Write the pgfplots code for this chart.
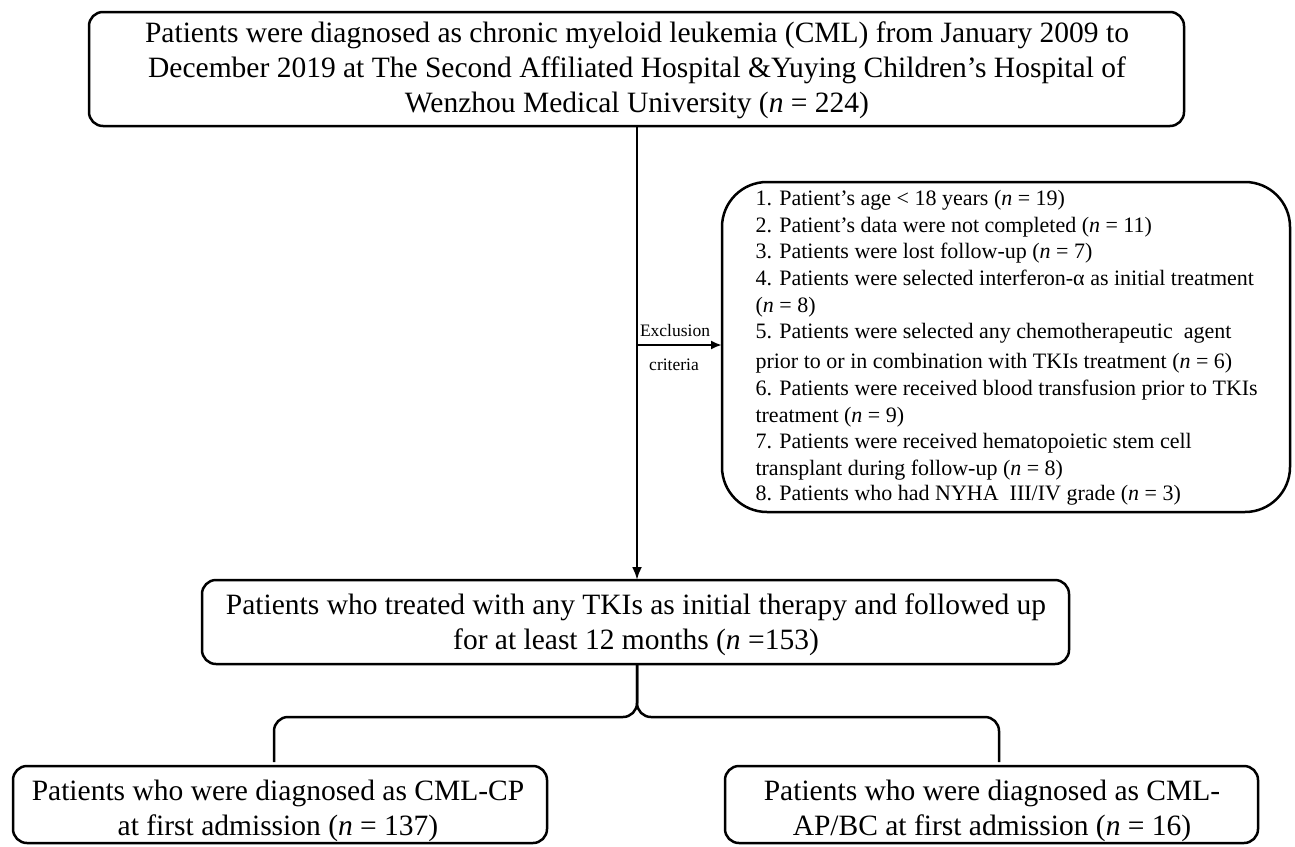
\documentclass[border=0pt]{standalone}
\usepackage{pgfplots}
\pgfplotsset{compat=1.18}
\usetikzlibrary{arrows.meta}
\usepackage{fontspec}
\setmainfont{Liberation Serif}
\newcommand{\fbig}{\fontsize{29.5}{35}\selectfont}
\newcommand{\fmed}{\fontsize{22}{26}\selectfont}
\newcommand{\fsm}{\fontsize{17.5}{20}\selectfont}
\begin{document}
\begin{tikzpicture}
\begin{axis}[x=1pt, y=1pt, y dir=reverse, xmin=0, xmax=1295, ymin=0, ymax=846,
  hide axis, clip=false, scale only axis]
\path (rel axis cs:0,0) rectangle (rel axis cs:1,1);
% boxes
\addplot[black, line width=2.5pt, rounded corners=14pt, mark=none] coordinates {(637,12) (1184,12) (1184,126) (89,126) (89,12) (637,12)};
\addplot[black, line width=2.5pt, rounded corners=45pt, mark=none] coordinates {(1000,182) (1290,182) (1290,512) (722,512) (722,182) (1000,182)};
\addplot[black, line width=2.5pt, rounded corners=14pt, mark=none] coordinates {(637,580) (1069,580) (1069,664) (202,664) (202,580) (637,580)};
\addplot[black, line width=2.5pt, rounded corners=14pt, mark=none] coordinates {(280,766) (547,766) (547,843) (13,843) (13,766) (280,766)};
\addplot[black, line width=2.5pt, rounded corners=14pt, mark=none] coordinates {(992,766) (1258,766) (1258,843) (725,843) (725,766) (992,766)};
% arrows
\addplot[black, line width=2.5pt, mark=none, -{Latex[length=13pt,width=10pt]}] coordinates {(637,126) (637,580)};
\addplot[black, line width=2.5pt, mark=none, -{Latex[length=11pt,width=9pt]}] coordinates {(637,345) (722,345)};
% bracket
\addplot[black, line width=2.5pt, rounded corners=14pt, mark=none] coordinates {(637,664) (637,717) (274,717) (274,762)};
\addplot[black, line width=2.5pt, rounded corners=14pt, mark=none] coordinates {(637,664) (637,717) (999,717) (999,762)};
% text: top box
\node[anchor=base, font=\fbig] at (axis cs:637,42) {Patients were diagnosed as chronic myeloid leukemia (CML) from January 2009 to};
\node[anchor=base, font=\fbig] at (axis cs:637,77) {December 2019 at The Second Affiliated Hospital \&Yuying Children’s Hospital of};
\node[anchor=base, font=\fbig] at (axis cs:637,112) {Wenzhou Medical University (\textit{n} = 224)};
% exclusion labels
\node[anchor=base, font=\fsm] at (axis cs:675,336) {Exclusion};
\node[anchor=base, font=\fsm] at (axis cs:674,370) {criteria};
% exclusion items
\node[anchor=base west, font=\fmed] at (axis cs:752,205) {1. Patient’s age < 18 years (\textit{n} = 19)};
\node[anchor=base west, font=\fmed] at (axis cs:752,232) {2. Patient’s data were not completed (\textit{n} = 11)};
\node[anchor=base west, font=\fmed] at (axis cs:752,258) {3. Patients were lost follow-up (\textit{n} = 7)};
\node[anchor=base west, font=\fmed] at (axis cs:752,285) {4. Patients were selected interferon-α as initial treatment};
\node[anchor=base west, font=\fmed] at (axis cs:752,312) {(\textit{n} = 8)};
\node[anchor=base west, font=\fmed] at (axis cs:752,338) {5. Patients were selected any chemotherapeutic\ \ agent};
\node[anchor=base west, font=\fmed] at (axis cs:752,368) {prior to or in combination with TKIs treatment (\textit{n} = 6)};
\node[anchor=base west, font=\fmed] at (axis cs:752,395) {6. Patients were received blood transfusion prior to TKIs};
\node[anchor=base west, font=\fmed] at (axis cs:752,422) {treatment (\textit{n} = 9)};
\node[anchor=base west, font=\fmed] at (axis cs:752,448) {7. Patients were received hematopoietic stem cell};
\node[anchor=base west, font=\fmed] at (axis cs:752,475) {transplant during follow-up (\textit{n} = 8)};
\node[anchor=base west, font=\fmed] at (axis cs:752,500) {8. Patients who had NYHA\ \ III/IV grade (\textit{n} = 3)};
% middle box
\node[anchor=base, font=\fbig] at (axis cs:636,614) {Patients who treated with any TKIs as initial therapy and followed up};
\node[anchor=base, font=\fbig] at (axis cs:636,649) {for at least 12 months (\textit{n} =153)};
% bottom boxes
\node[anchor=base, font=\fbig] at (axis cs:278,800) {Patients who were diagnosed as CML-CP};
\node[anchor=base, font=\fbig] at (axis cs:278,835) {at first admission (\textit{n} = 137)};
\node[anchor=base, font=\fbig] at (axis cs:992,800) {Patients who were diagnosed as CML-};
\node[anchor=base, font=\fbig] at (axis cs:992,835) {AP/BC at first admission (\textit{n} = 16)};
\end{axis}
\end{tikzpicture}
\end{document}
